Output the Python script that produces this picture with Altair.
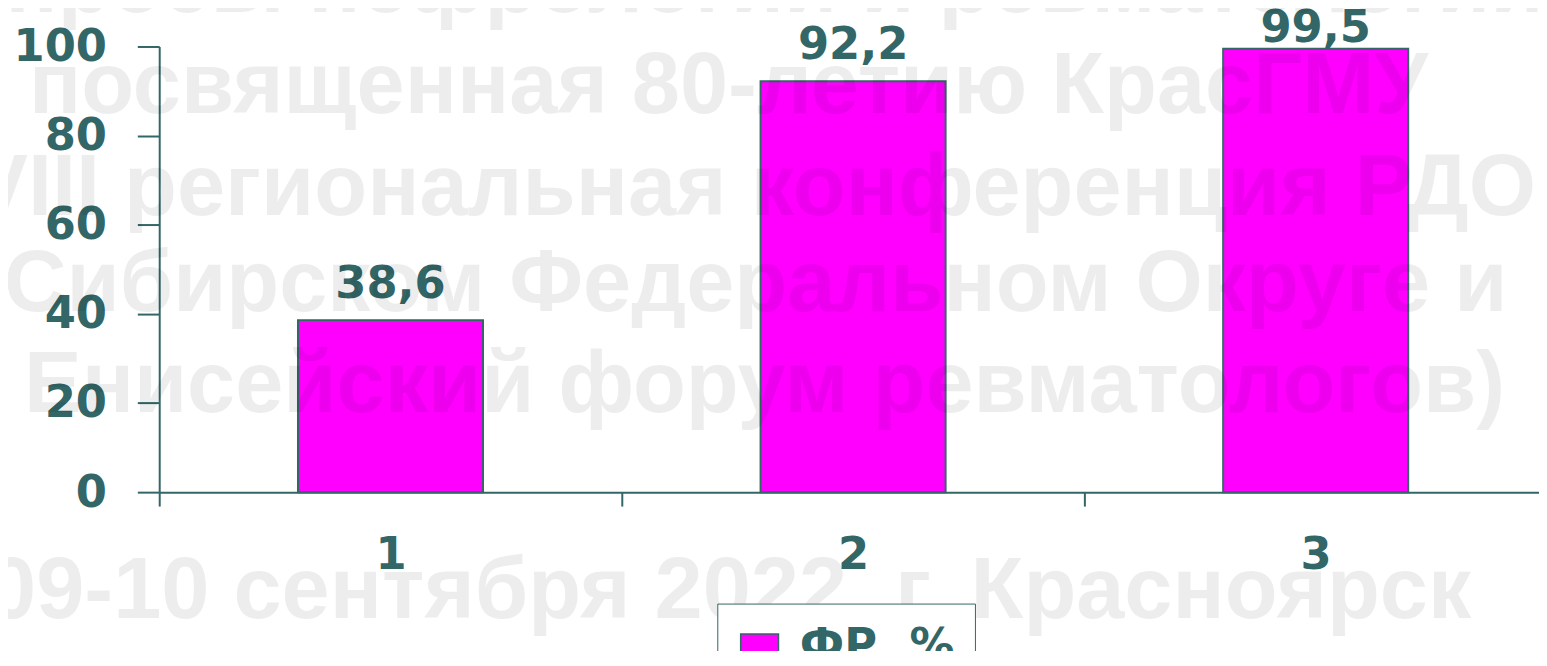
import altair as alt
import pandas as pd

# ---- data ----
categories = ["1", "2", "3"]
values = [38.6, 92.2, 99.5]
value_labels = ["38,6", "92,2", "99,5"]
series_name = "ФР, %"
y_ticks = [0, 20, 40, 60, 80, 100]

# watermark lines (background decoration)
wm_lines = [
    "вопросы нефрологии и ревматологии (",
    "посвященная 80-летию КрасГМУ",
    "VIII региональная конференция РДО в",
    "Сибирском Федеральном Округе и",
    "Енисейский форум ревматологов)",
    "09-10 сентября 2022, г. Красноярск",
]
wm_x = [-260, -131, -190, -156, -136, -172]
wm_y = [-35, 67, 169, 266, 367, 575]

TEAL = "#336666"
MAGENTA = "#ff00ff"
FONT = "DejaVu Sans"
FS = 45

df = pd.DataFrame({"cat": categories, "v": values, "label": value_labels,
                   "series": [series_name] * len(categories)})
wm = pd.DataFrame({"t": wm_lines, "x": wm_x, "y": wm_y})

x_enc = alt.X("cat:N", sort=categories, title=None,
              scale=alt.Scale(paddingInner=0.6, paddingOuter=0.3, range=[0, 1395]),
              axis=alt.Axis(labelAngle=0, tickSize=14, labelPadding=27,
                            tickOffset=-232.5, labelOffset=232.5,
                            labelFont=FONT, labelFontWeight="bold", labelFontSize=FS,
                            labelColor=TEAL, domainColor=TEAL, tickColor=TEAL,
                            domainWidth=2, tickWidth=2, grid=False))
y_scale = alt.Scale(domain=[0, 100], nice=False, zero=True)

bars = alt.Chart(df).mark_bar(stroke=TEAL, strokeWidth=2).encode(
    x=x_enc,
    y=alt.Y("v:Q", scale=y_scale, title=None,
            axis=alt.Axis(values=y_ticks, tickSize=22, labelPadding=31,
                          labelFont=FONT, labelFontWeight="bold", labelFontSize=FS,
                          labelColor=TEAL, domainColor=TEAL, tickColor=TEAL,
                          domainWidth=2, tickWidth=2, grid=False)),
    color=alt.Color("series:N", scale=alt.Scale(range=[MAGENTA]),
                    legend=alt.Legend(title=None, orient="none", legendX=561, legendY=560,
                                      padding=20, strokeColor=TEAL, fillColor="white",
                                      symbolType="M-1,-0.632L1,-0.632L1,0.632L-1,0.632Z",
                                      symbolSize=1444, symbolStrokeColor=TEAL,
                                      symbolStrokeWidth=1.5, labelOffset=18,
                                      labelFont=FONT, labelFontWeight="bold",
                                      labelFontSize=FS, labelColor=TEAL)),
)

labels = alt.Chart(df).transform_calculate(
    ly="min(datum.v + 5, 101.1)"
).mark_text(font=FONT, fontWeight="bold", fontSize=FS, color=TEAL,
            baseline="alphabetic").encode(
    x=alt.X("cat:N", sort=categories),
    y=alt.Y("ly:Q", scale=y_scale),
    text="label:N",
)

watermark = alt.Chart(wm).mark_text(
    align="left", baseline="alphabetic", font="Liberation Sans", fontWeight="bold",
    fontSize=87, color="black", opacity=0.065
).encode(
    x=alt.X("x:Q", scale=None, axis=None),
    y=alt.Y("y:Q", scale=None, axis=None),
    text="t:N",
)

chart = alt.layer(bars, labels, watermark).properties(
    width=1387, height=448,
    autosize=alt.AutoSizeParams(type="none"),
    padding={"left": 152, "top": 37, "right": 0, "bottom": 158},
).configure_view(stroke=None)

chart.save("out.html", embed_options={"renderer": "svg", "actions": False})
